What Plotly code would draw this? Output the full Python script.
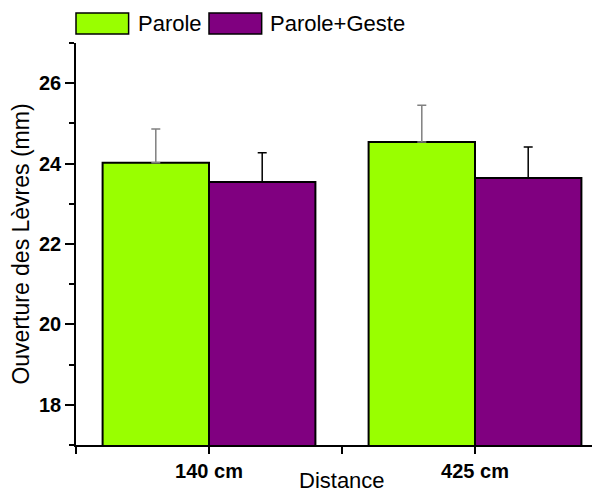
import plotly.graph_objects as go

# ---- data ----
categories = ["140 cm", "425 cm"]
series_names = ["Parole", "Parole+Geste"]
parole = [24.02, 24.54]
parole_err = [0.84, 0.91]
parole_geste = [23.54, 23.64]
parole_geste_err = [0.73, 0.77]
y_ticks = [18, 20, 22, 24, 26]
x_title = "Distance"
y_title = "Ouverture des Lèvres (mm)"

# ---- styles ----
colors = ["#99FF00", "#800080"]
err_colors = ["#808080", "#000000"]
FONT = "Liberation Sans, Arial, sans-serif"

x = list(range(len(categories)))
values = [parole, parole_geste]
errors = [parole_err, parole_geste_err]

fig = go.Figure()
for name, vals, errs, c, ec in zip(series_names, values, errors, colors, err_colors):
    fig.add_trace(go.Bar(
        x=x, y=vals, name=name,
        marker=dict(color=c, line=dict(color="black", width=2)),
        error_y=dict(type="data", symmetric=False, array=errs,
                     arrayminus=[0] * len(errs), color=ec,
                     thickness=1.5, width=4.5),
    ))

# bottom ticks: category centres plus boundaries
tv, tt = [], []
for i, cat in enumerate(categories):
    tv += [i - 0.5, i]
    tt += ["", cat]
tv.append(len(categories) - 0.5)
tt.append("")

xr = [-0.5, len(categories) - 0.5]
fig.update_layout(
    width=600, height=495,
    margin=dict(l=68, r=0, t=35, b=58),
    barmode="group", bargap=0.2, bargroupgap=0,
    plot_bgcolor="white", paper_bgcolor="white",
    showlegend=False,
    font=dict(family=FONT, color="black"),
    xaxis=dict(range=xr, tickvals=tv, ticktext=tt, ticks="outside",
               ticklen=7, tickwidth=1.5, tickcolor="black",
               showline=True, linewidth=1.5, linecolor="black",
               showgrid=False, zeroline=False,
               tickfont=dict(size=20, weight="bold")),
    xaxis2=dict(range=xr, overlaying="x", side="top", anchor="y",
                tickvals=tv, ticks="inside", ticklen=7, tickwidth=1.5,
                tickcolor="black", showline=True, linewidth=1.5,
                linecolor="black", showticklabels=False, showgrid=False,
                zeroline=False),
    yaxis=dict(range=[17, 27], tickvals=y_ticks, ticks="outside",
               ticklen=9, tickwidth=1.5, tickcolor="black",
               minor=dict(dtick=1, tick0=17, ticks="outside", ticklen=5,
                          tickwidth=1.5, tickcolor="black"),
               showline=True, linewidth=1.5, linecolor="black",
               showgrid=False, zeroline=False,
               tickfont=dict(size=20, weight="bold"),
               title=dict(text=y_title, font=dict(size=23), standoff=11)),
    yaxis2=dict(range=[17, 27], overlaying="y", side="right", anchor="x",
                tickvals=y_ticks, ticks="inside", ticklen=9, tickwidth=1.5,
                tickcolor="black", showticklabels=False, showline=True,
                linewidth=1.5, linecolor="black",
                showgrid=False, zeroline=False),
)

# x-axis title placed just above the bottom edge
fig.add_annotation(xref="paper", yref="paper", x=0.5, y=-0.122,
                   xanchor="center", yanchor="bottom", showarrow=False,
                   borderpad=0, text=x_title,
                   font=dict(size=22, family=FONT))

# ---- custom legend (large swatches) ----
box_x = [(0.0, 0.0989), (0.25, 0.349)]
text_x = [0.1128, 0.3609]
for name, c, (x0, x1), tx in zip(series_names, colors, box_x, text_x):
    fig.add_shape(type="rect", xref="paper", yref="paper",
                  x0=x0, x1=x1, y0=1.0221, y1=1.0745,
                  fillcolor=c, line=dict(color="black", width=1.5))
    fig.add_annotation(xref="paper", yref="paper", x=tx, y=1.0482,
                       xanchor="left", yanchor="middle", showarrow=False,
                       text=name, font=dict(size=22, family=FONT))

fig.write_html("out.html")
